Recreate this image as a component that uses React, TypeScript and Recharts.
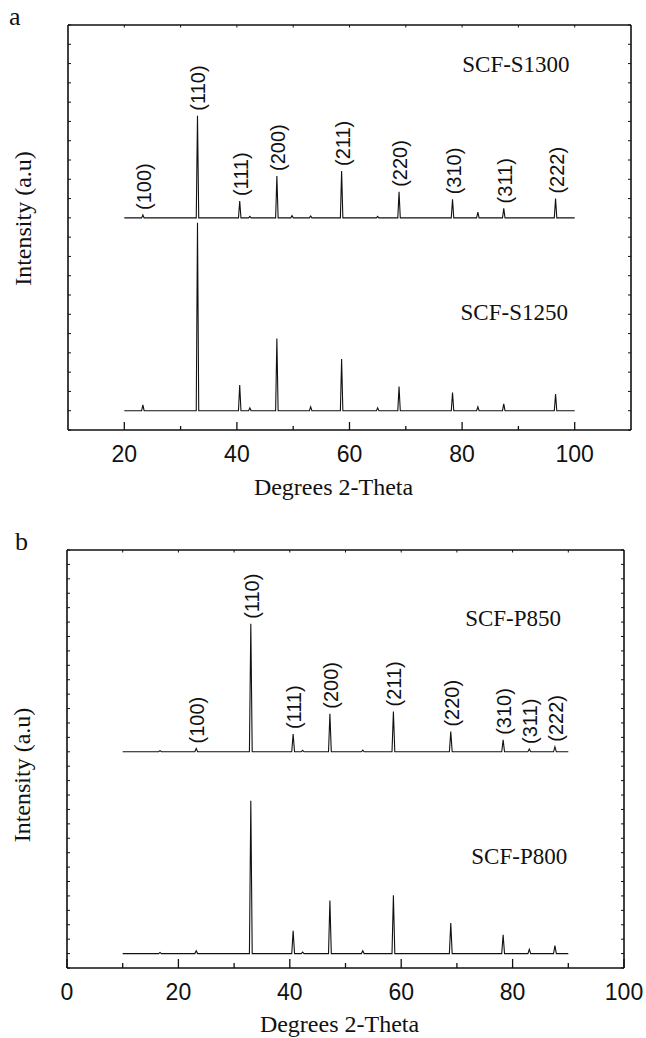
import React from "react";
import { ComposedChart, Line, Scatter, XAxis, YAxis, ReferenceDot, Label } from "recharts";

// panel a, SCF-S powders, scanned 20..100 deg
const rangeA = [20, 100];
const millerNames = ["(100)", "(110)", "(111)", "(200)", "(211)", "(220)", "(310)", "(311)", "(222)"];
const millerPosA = [23.3, 33.0, 40.5, 47.1, 58.6, 68.8, 78.3, 87.4, 96.6];

const peakPosS1300 = [23.3, 33.0, 40.5, 42.3, 47.1, 49.8, 53.1, 58.6, 65.0, 68.8, 78.3, 82.8, 87.4, 96.6];
const peakHtS1300 = [0.15, 5.3, 0.87, 0.08, 2.17, 0.12, 0.1, 2.43, 0.08, 1.35, 0.96, 0.3, 0.49, 1.0];
const baseS1300 = 11;

const peakPosS1250 = [23.3, 33.0, 40.5, 42.3, 47.1, 53.1, 58.6, 65.0, 68.8, 78.3, 82.8, 87.4, 96.6];
const peakHtS1250 = [0.3, 9.75, 1.33, 0.15, 3.75, 0.2, 2.68, 0.15, 1.25, 0.94, 0.2, 0.35, 0.87];
const baseS1250 = 1;

// panel b, SCF-P powders, scanned 10..90 deg
const rangeB = [10, 90];
const millerPosB = [23.2, 33.0, 40.6, 47.2, 58.6, 68.9, 78.3, 83.0, 87.6];

const peakPosP = [16.7, 23.2, 33.0, 40.6, 42.3, 47.2, 53.1, 58.6, 68.9, 78.3, 83.0, 87.6];
const peakHtP850 = [0.08, 0.23, 8.88, 1.23, 0.1, 2.64, 0.12, 2.8, 1.4, 0.83, 0.2, 0.35];
const baseP850 = 15;
const peakHtP800 = [0.08, 0.2, 10.6, 1.59, 0.1, 3.69, 0.2, 4.04, 2.12, 1.31, 0.3, 0.55];
const baseP800 = 1;

const ticksA = [20, 30, 40, 50, 60, 70, 80, 90, 100];
const ticksB = [0, 10, 20, 30, 40, 50, 60, 70, 80, 90, 100];

const SERIF = "'Liberation Serif', 'Times New Roman', serif";
const SANS = "'Liberation Sans', Arial, sans-serif";
const INK = "#111";

function profile(range: number[], base: number, pos: number[], ht: number[], w: number) {
  const pts = [{ x: range[0], y: base }];
  pos.forEach((p, i) => {
    pts.push({ x: p - w, y: base }, { x: p, y: base + ht[i] }, { x: p + w, y: base });
  });
  pts.push({ x: range[1], y: base });
  return pts;
}

function peakLabels(names: string[], at: number[], base: number, pos: number[], ht: number[]) {
  return at.map((p, i) => ({ x: p, y: base + ht[pos.indexOf(p)], label: names[i] }));
}

const bottomTick = (major: number, minor: number) => (props: any) => {
  const { x, y, payload } = props;
  const isMajor = payload.value % 20 === 0;
  return (
    <g>
      <line x1={x} x2={x} y1={y} y2={y - (isMajor ? major : minor)} stroke={INK} strokeWidth={1.3} />
      {isMajor && (
        <text x={x} y={y + 32} textAnchor="middle" fontFamily={SANS} fontSize={23} fill={INK}>
          {payload.value}
        </text>
      )}
    </g>
  );
};

const topTick = (props: any) => (
  <line x1={props.x} x2={props.x} y1={props.y} y2={props.y + 2.5} stroke={INK} strokeWidth={1} />
);
const leftTick = (props: any) => (
  <line x1={props.x} x2={props.x + 3} y1={props.y} y2={props.y} stroke={INK} strokeWidth={1} />
);
const rightTick = (props: any) => (
  <line x1={props.x} x2={props.x - 3} y1={props.y} y2={props.y} stroke={INK} strokeWidth={1} />
);

const millerShape = (props: any) => (
  <text
    transform={`translate(${props.cx + 1},${props.cy - 5}) rotate(-90)`}
    dominantBaseline="central"
    fontFamily={SANS}
    fontSize={20}
    fill={INK}
  >
    {props.payload.label}
  </text>
);

const sampleName = (name: string) => (props: any) => (
  <text x={props.cx} y={props.cy} textAnchor="end" fontFamily={SERIF} fontSize={23} fill={INK}>
    {name}
  </text>
);

interface PanelProps {
  top: number;
  height: number;
  margin: { top: number; right: number; bottom: number; left: number };
  xDomain: number[];
  xTicks: number[];
  yMax: number;
  upper: { x: number; y: number }[];
  lower: { x: number; y: number }[];
  labels: { x: number; y: number; label: string }[];
  names: { text: string; x: number; y: number }[];
  letter: string;
  letterDx: number;
  yLabelDy: number;
  xLabelDx: number;
  xLabelDy: number;
  tickLen: number[];
}

// axes get a 1px box each; the margins below are trimmed by that pixel
function Panel(p: PanelProps) {
  const yTicks = Array.from({ length: p.yMax + 1 }, (_, i) => i);
  const m = {
    top: p.margin.top - 1,
    right: p.margin.right - 1,
    bottom: p.margin.bottom - 1,
    left: p.margin.left - 1,
  };
  return (
    <div style={{ position: "absolute", left: 0, top: p.top }}>
      <ComposedChart width={646} height={p.height} margin={m}>
        <XAxis
          dataKey="x"
          type="number"
          domain={p.xDomain}
          ticks={p.xTicks}
          interval={0}
          height={1}
          tickSize={0}
          tickMargin={0}
          tickLine={false}
          axisLine={{ stroke: INK, strokeWidth: 1.6 }}
          tick={bottomTick(p.tickLen[0], p.tickLen[1])}
        >
          <Label
            content={(lp: any) => (
              <text
                x={lp.viewBox.x + lp.viewBox.width / 2 + p.xLabelDx}
                y={lp.viewBox.y + p.xLabelDy}
                textAnchor="middle"
                fontFamily={SERIF}
                fontSize={24}
                fill={INK}
              >
                Degrees 2-Theta
              </text>
            )}
          />
        </XAxis>
        <XAxis
          xAxisId="top"
          orientation="top"
          dataKey="x"
          type="number"
          domain={p.xDomain}
          allowDataOverflow
          ticks={p.xTicks.filter((t) => t > p.xDomain[0] && t < p.xDomain[1])}
          interval={0}
          height={1}
          tickSize={0}
          tickMargin={0}
          tickLine={false}
          axisLine={{ stroke: INK, strokeWidth: 1.6 }}
          tick={topTick}
        >
          <Label
            content={(lp: any) => (
              <text x={lp.viewBox.x + p.letterDx} y={lp.viewBox.y + lp.viewBox.height} fontFamily={SERIF} fontSize={26} fill={INK}>
                {p.letter}
              </text>
            )}
          />
        </XAxis>
        <YAxis
          type="number"
          domain={[0, p.yMax]}
          ticks={yTicks}
          interval={0}
          width={1}
          tickSize={0}
          tickMargin={0}
          tickLine={false}
          axisLine={{ stroke: INK, strokeWidth: 1.6 }}
          tick={leftTick}
        >
          <Label
            content={(lp: any) => {
              const cx = lp.viewBox.x + lp.viewBox.width - 45;
              const cy = lp.viewBox.y + lp.viewBox.height / 2 + p.yLabelDy;
              return (
                <text
                  transform={`translate(${cx},${cy}) rotate(-90)`}
                  textAnchor="middle"
                  dominantBaseline="central"
                  fontFamily={SERIF}
                  fontSize={24}
                  fill={INK}
                >
                  Intensity (a.u)
                </text>
              );
            }}
          />
        </YAxis>
        <YAxis
          yAxisId="right"
          orientation="right"
          type="number"
          domain={[0, p.yMax]}
          allowDataOverflow
          ticks={yTicks}
          interval={0}
          width={1}
          tickSize={0}
          tickMargin={0}
          tickLine={false}
          axisLine={{ stroke: INK, strokeWidth: 1.6 }}
          tick={rightTick}
        />
        <Line data={p.upper} dataKey="y" type="linear" stroke={INK} strokeWidth={1.1} dot={false} isAnimationActive={false} />
        <Line data={p.lower} dataKey="y" type="linear" stroke={INK} strokeWidth={1.1} dot={false} isAnimationActive={false} />
        <Scatter data={p.labels} dataKey="y" shape={millerShape} isAnimationActive={false} />
        {p.names.map((n) => (
          <ReferenceDot key={n.text} x={n.x} y={n.y} r={0} shape={sampleName(n.text)} />
        ))}
      </ComposedChart>
    </div>
  );
}

export default function App() {
  return (
    <div style={{ position: "absolute", left: 0, top: 0, width: 646, height: 1038, background: "#fff" }}>
      <Panel
        top={0}
        height={520}
        margin={{ top: 25, right: 15, bottom: 90, left: 68 }}
        xDomain={[10, 110]}
        xTicks={ticksA}
        yMax={21}
        upper={profile(rangeA, baseS1300, peakPosS1300, peakHtS1300, 0.22)}
        lower={profile(rangeA, baseS1250, peakPosS1250, peakHtS1250, 0.22)}
        labels={peakLabels(millerNames, millerPosA, baseS1300, peakPosS1300, peakHtS1300)}
        names={[
          { text: "SCF-S1300", x: 99.1, y: 18.57 },
          { text: "SCF-S1250", x: 98.8, y: 5.7 },
        ]}
        letter="a"
        letterDx={-59}
        yLabelDy={-9}
        xLabelDx={-16}
        xLabelDy={65}
        tickLen={[8, 4]}
      />
      <Panel
        top={520}
        height={518}
        margin={{ top: 30, right: 22, bottom: 70, left: 67 }}
        xDomain={[0, 100]}
        xTicks={ticksB}
        yMax={29}
        upper={profile(rangeB, baseP850, peakPosP, peakHtP850, 0.25)}
        lower={profile(rangeB, baseP800, peakPosP, peakHtP800, 0.25)}
        labels={peakLabels(millerNames, millerPosB, baseP850, peakPosP, peakHtP850)}
        names={[
          { text: "SCF-P850", x: 88.7, y: 23.7 },
          { text: "SCF-P800", x: 89.8, y: 7.23 },
        ]}
        letter="b"
        letterDx={-52}
        yLabelDy={16}
        xLabelDx={-6}
        xLabelDy={64}
        tickLen={[9, 5]}
      />
    </div>
  );
}
